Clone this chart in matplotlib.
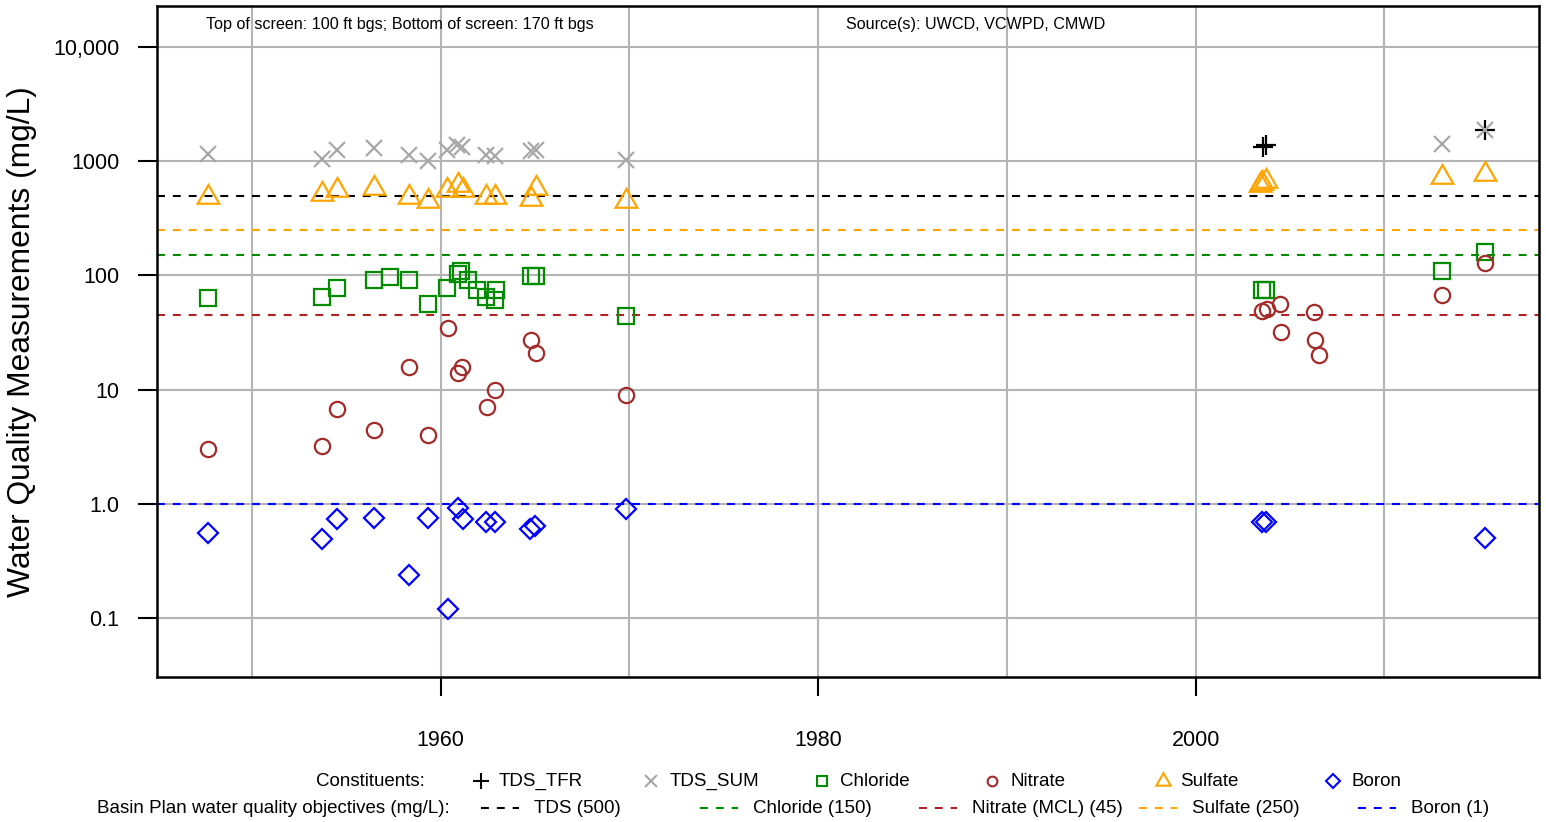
import matplotlib
matplotlib.use("Agg")
import matplotlib.pyplot as plt
from matplotlib.lines import Line2D
from matplotlib.ticker import FixedLocator, NullLocator

plt.rcParams['font.family'] = ['Liberation Sans', 'DejaVu Sans']

#
# Data (decimal year, mg/L)
#
tds_tfr_year = [2003.55, 2003.75, 2015.36]
tds_tfr_val = [1340, 1390, 1890]

tds_sum_year = [1947.66, 1953.69, 1954.51, 1956.46, 1958.31, 1959.35, 1960.35, 1960.86, 1961.11,
                1962.42, 1962.86, 1964.80, 1965.03, 1969.83, 2013.07, 2015.36]
tds_sum_val = [1170, 1040, 1250, 1310, 1145, 1000, 1250, 1400, 1330,
               1145, 1115, 1225, 1250, 1020, 1410, 1890]

chloride_year = [1947.66, 1953.69, 1954.51, 1956.46, 1957.30, 1958.31, 1959.35, 1960.35, 1960.92,
                 1961.09, 1961.45, 1961.94, 1962.42, 1962.95, 1962.89, 1964.80, 1965.03, 1969.83,
                 2003.51, 2003.72, 2013.07, 2015.36]
chloride_val = [63, 65, 78, 92, 97, 91, 56, 78.5, 103,
                110, 92, 74, 65, 75, 61, 99, 99, 44,
                74, 74, 110, 159]

nitrate_year = [1947.66, 1953.69, 1954.51, 1956.46, 1958.31, 1959.35, 1960.39, 1960.92, 1961.13,
                1962.45, 1962.89, 1964.80, 1965.03, 1969.83, 2003.51, 2003.78, 2004.48, 2004.52,
                2006.28, 2006.33, 2006.55, 2013.07, 2015.36]
nitrate_val = [3.0, 3.2, 6.8, 4.4, 15.8, 4.0, 35, 14, 15.8,
               7.0, 9.9, 27, 21, 9.0, 49, 51, 56, 32,
               48, 27, 20, 68, 129]

sulfate_year = [1947.66, 1953.69, 1954.51, 1956.46, 1958.31, 1959.35, 1960.35, 1960.93, 1961.18,
                1962.42, 1962.89, 1964.80, 1965.03, 1969.83, 2003.42, 2003.51, 2003.72, 2013.07,
                2015.36]
sulfate_val = [482, 517, 560, 580, 482, 449, 560, 620, 555,
               482, 491, 468, 588, 449, 620, 641, 671, 723,
               769]

boron_year = [1947.66, 1953.69, 1954.51, 1956.46, 1958.31, 1959.35, 1960.39, 1960.92, 1961.18,
              1962.42, 1962.89, 1964.71, 1964.97, 1969.83, 2003.51, 2003.72, 2015.36]
boron_val = [0.56, 0.49, 0.74, 0.75, 0.24, 0.76, 0.12, 0.93, 0.74,
             0.69, 0.70, 0.60, 0.64, 0.90, 0.70, 0.70, 0.50]

objective_names = ["TDS (500)", "Chloride (150)", "Nitrate (MCL) (45)", "Sulfate (250)", "Boron (1)"]
objective_vals = [500, 150, 45, 250, 1]
objective_colors = ["black", "#008B00", "#B22222", "orange", "blue"]

y_ticks = [0.1, 1, 10, 100, 1000, 10000]
y_tick_labels = ["0.1", "1.0", "10", "100", "1000", "10,000"]
x_ticks = [1960, 1980, 2000]
x_grid = [1950, 1970, 1990, 2010]

GRID = "#B4B4B4"
DASH = (0, (3.8, 3.8))
TRI = (3, 0, 0)  # equilateral triangle like R's pch 2

fig = plt.figure(figsize=(15.46, 8.22), dpi=100)
ax = fig.add_axes([0.1016, 0.1764, 0.8939, 0.8163])

# Objective lines
for val, col in zip(objective_vals, objective_colors):
    ax.axhline(val, color=col, lw=1.5, linestyle=DASH, zorder=2)

# Constituents
series = [
    (tds_tfr_year, tds_tfr_val, "+", "black", 15, "TDS_TFR"),
    (tds_sum_year, tds_sum_val, "x", "#A8A8A8", 11, "TDS_SUM"),
    (chloride_year, chloride_val, "s", "#008B00", 11, "Chloride"),
    (nitrate_year, nitrate_val, "o", "#A52A2A", 11, "Nitrate"),
    (sulfate_year, sulfate_val, TRI, "orange", 18, "Sulfate"),
    (boron_year, boron_val, "D", "blue", 10, "Boron"),
]
for xs, ys, mk, col, ms, name in series:
    ax.plot(xs, ys, linestyle="none", marker=mk, ms=ms, mfc="none", mec=col, mew=1.6, zorder=3)

ax.set_yscale("log")
ax.set_ylim(0.0305, 22900)
ax.set_xlim(1944.97, 2018.2)

ax.yaxis.set_major_locator(FixedLocator(y_ticks))
ax.set_yticklabels(y_tick_labels)
ax.yaxis.set_minor_locator(NullLocator())
ax.xaxis.set_major_locator(FixedLocator(x_ticks))
ax.xaxis.set_minor_locator(FixedLocator(x_grid))
ax.set_xticklabels([str(t) for t in x_ticks])

ax.tick_params(axis="both", which="major", length=14, width=1.5, labelsize=15.5, direction="out")
ax.tick_params(axis="x", which="major", pad=24)
ax.tick_params(axis="y", which="major", pad=13)
ax.tick_params(axis="x", which="minor", length=0)
ax.grid(True, which="major", color=GRID, lw=1.5, zorder=1)
ax.grid(True, which="minor", axis="x", color=GRID, lw=1.5, zorder=1)
ax.set_axisbelow(True)
for s in ax.spines.values():
    s.set_linewidth(1.8)

ax.set_ylabel("Water Quality Measurements (mg/L)", fontsize=22.9, labelpad=12)

ax.text(0.176, 0.972, "Top of screen: 100 ft bgs; Bottom of screen: 170 ft bgs",
        transform=ax.transAxes, ha="center", va="center", fontsize=11.6)
ax.text(0.592, 0.972, "Source(s): UWCD, VCWPD, CMWD",
        transform=ax.transAxes, ha="center", va="center", fontsize=11.6)

#
# Custom two-row legend under the plot
#
W, H = 1546.0, 822.0
row1_y = 1 - 781 / H
row2_y = 1 - 808 / H
fig.text(425 / W, row1_y, "Constituents:", ha="right", va="center", fontsize=13.5)
fig.text(450 / W, row2_y, "Basin Plan water quality objectives (mg/L):", ha="right", va="center", fontsize=13.5)

legend_ms = {"+": 11, "x": 8, "s": 7, "o": 7, TRI: 12, "D": 7}
for i, (xs, ys, mk, col, ms, name) in enumerate(series):
    px = (481 + i * 170.4) / W
    fig.add_artist(Line2D([px], [row1_y], marker=mk, ms=legend_ms[mk], mfc="none", mec=col, mew=1.5,
                          linestyle="none", transform=fig.transFigure))
    fig.text(px + 18 / W, row1_y, name, ha="left", va="center", fontsize=13.5)

for i, (name, col) in enumerate(zip(objective_names, objective_colors)):
    x0 = (481 + i * 219.2) / W
    fig.add_artist(Line2D([x0, x0 + 38 / W], [row2_y, row2_y], color=col, lw=1.5, linestyle=DASH,
                          transform=fig.transFigure))
    fig.text(x0 + 53 / W, row2_y, name, ha="left", va="center", fontsize=13.5)

fig.savefig("out.png", dpi=100)
